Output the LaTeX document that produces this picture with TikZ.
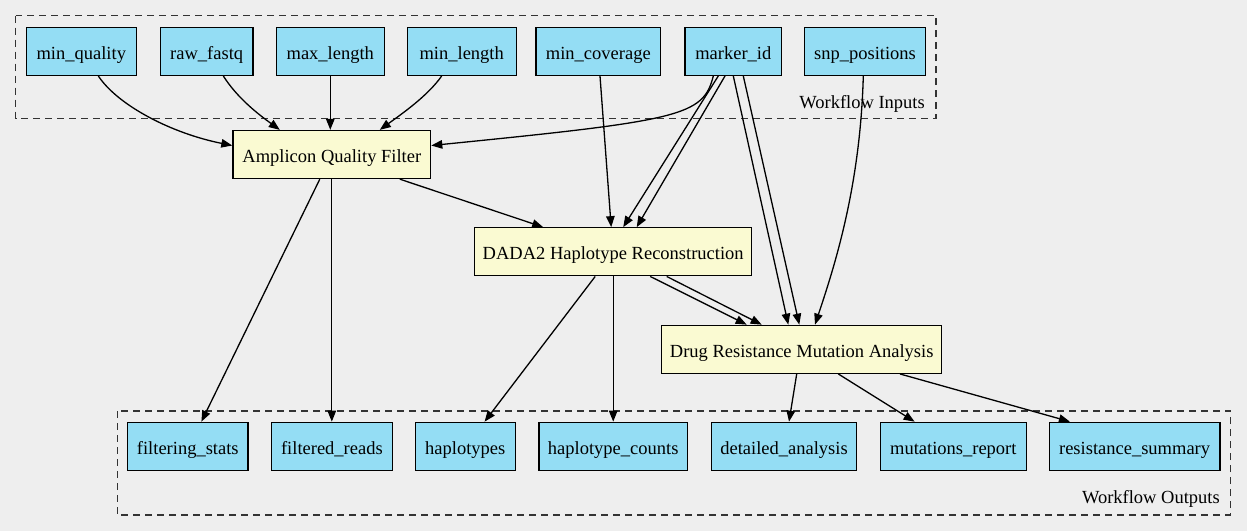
\documentclass[tikz,border=0pt]{standalone}
\usepackage{fontspec}
\setmainfont{Liberation Serif}
\usetikzlibrary{arrows.meta}
\definecolor{bgcol}{HTML}{EEEEEE}
\definecolor{iofill}{HTML}{94DDF4}
\definecolor{procfill}{HTML}{FAFAD2}

\begin{document}
\begin{tikzpicture}[x=1pt,y=-1pt,
    font=\fontsize{18.5}{22}\selectfont,
    iobox/.style={draw=black,fill=iofill,line width=1.3pt,minimum height=48pt,inner sep=0pt,text height=16pt,text depth=0pt},
    procbox/.style={draw=black,fill=procfill,line width=1.3pt,minimum height=48pt,inner sep=0pt,text height=16pt,text depth=0pt},
    cluster/.style={draw=black!80,line width=1.3pt,dash pattern=on 7pt off 5pt},
    edge/.style={line width=1.3pt,-{Triangle[length=11pt,width=8.5pt]}}]

    \fill[bgcol] (0,0) rectangle (1247,531);
    \useasboundingbox (0,0) rectangle (1247,531);

    \draw[cluster] (15.7,15.7) rectangle (936,118.3);
    \draw[cluster] (117.2,411) rectangle (1230.4,515);
    \node[anchor=east,inner sep=0pt] (inlabel) at (925,103.8) {Workflow Inputs};
    \node[anchor=east,inner sep=0pt] (outlabel) at (1220,498.5) {Workflow Outputs};

    \node[iobox,minimum width=110pt] (mq) at (81.3,51.3) {min\_quality};
    \node[iobox,minimum width=92.7pt] (rf) at (206.7,51.3) {raw\_fastq};
    \node[iobox,minimum width=108pt] (mxl) at (330.3,51.3) {max\_length};
    \node[iobox,minimum width=109pt] (mnl) at (461.7,51.3) {min\_length};
    \node[iobox,minimum width=124.7pt] (mc) at (598.3,51.3) {min\_coverage};
    \node[iobox,minimum width=96.7pt] (mid) at (733.3,51.3) {marker\_id};
    \node[iobox,minimum width=121.4pt] (snp) at (865,51.3) {snp\_positions};

    \node[procbox,minimum width=197.7pt] (aqf) at (331.8,154.5) {Amplicon Quality Filter};
    \node[procbox,minimum width=277pt] (dada) at (613.2,251.8) {DADA2 Haplotype Reconstruction};
    \node[procbox,minimum width=280pt] (drug) at (801.7,349.3) {Drug Resistance Mutation Analysis};

    \node[iobox,minimum width=120.5pt] (fs) at (187.8,446.3) {filtering\_stats};
    \node[iobox,minimum width=121pt] (fr) at (331.9,446.3) {filtered\_reads};
    \node[iobox,minimum width=100pt] (hap) at (465.3,446.3) {haplotypes};
    \node[iobox,minimum width=148.4pt] (hc) at (613.2,446.3) {haplotype\_counts};
    \node[iobox,minimum width=145.5pt] (da) at (784,446.3) {detailed\_analysis};
    \node[iobox,minimum width=145.8pt] (mr) at (953.3,446.3) {mutations\_report};
    \node[iobox,minimum width=170.6pt] (rs) at (1134.6,446.3) {resistance\_summary};

    \draw[edge] ([xshift=17pt]mq.south) .. controls +(20,30) and +(-60,-12) .. ([yshift=9pt]aqf.west);
    \draw[edge] ([xshift=16.6pt]rf.south) .. controls +(14,22) and +(-22,-16) .. ([xshift=-52pt]aqf.north);
    \draw[edge] (mxl.south) -- (mxl.south |- aqf.north);
    \draw[edge] ([xshift=-20pt]mnl.south) .. controls +(-14,20) and +(22,-16) .. ([xshift=48pt]aqf.north);
    \draw[edge] ([xshift=-20pt]mid.south) .. controls +(-10,40) and +(250,-25) .. ([yshift=9pt]aqf.east);

    \draw[edge] ([xshift=1.7pt]mc.south) -- ([xshift=-2pt]dada.north);
    \draw[edge] ([xshift=-15pt]mid.south) -- ([xshift=10pt]dada.north);
    \draw[edge] ([xshift=-8.3pt]mid.south) -- ([xshift=23.5pt]dada.north);
    \draw[edge] (mid.south) -- ([xshift=-13.4pt]drug.north);
    \draw[edge] ([xshift=10pt]mid.south) -- ([xshift=-2.4pt]drug.north);
    \draw[edge] ([xshift=-1.7pt]snp.south) .. controls +(-3,110) and +(20,-60) .. ([xshift=13.3pt]drug.north);

    \draw[edge] ([xshift=68pt]aqf.south) -- ([xshift=-70pt]dada.north);
    \draw[edge] ([xshift=37pt]dada.south) -- ([xshift=-55pt]drug.north);
    \draw[edge] ([xshift=53.5pt]dada.south) -- ([xshift=-40pt]drug.north);

    \draw[edge] ([xshift=-12pt]aqf.south) -- ([xshift=13.6pt]fs.north);
    \draw[edge] (aqf.south) -- (aqf.south |- fr.north);
    \draw[edge] ([xshift=-18pt]dada.south) -- ([xshift=19.3pt]hap.north);
    \draw[edge] (dada.south) -- (hc.north);
    \draw[edge] ([xshift=-5pt]drug.south) -- ([xshift=5pt]da.north);
    \draw[edge] ([xshift=36.6pt]drug.south) -- ([xshift=-38.7pt]mr.north);
    \draw[edge] ([xshift=98.3pt]drug.south) -- ([xshift=-64.7pt]rs.north);
\end{tikzpicture}
\end{document}
